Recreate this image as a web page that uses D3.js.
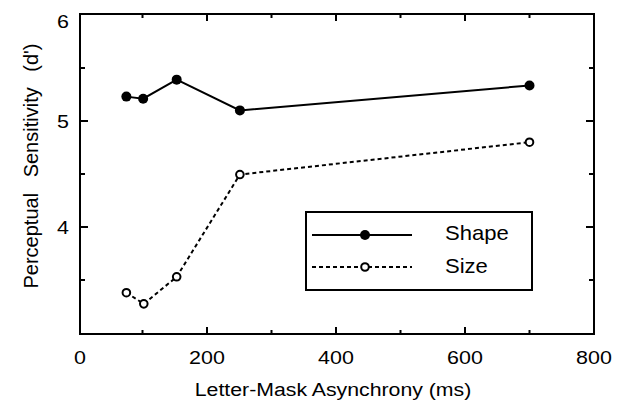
<!DOCTYPE html>
<html><head><meta charset="utf-8">
<script src="https://cdn.jsdelivr.net/npm/d3@7"></script>
<style>body{margin:0;background:#fff}svg{display:block}</style>
</head><body>
<script>
const shapeX = [75, 101, 153, 251, 700];
const shapeY = [5.23, 5.21, 5.39, 5.10, 5.335];
const sizeX = [75, 102, 153, 251, 700];
const sizeY = [3.38, 3.275, 3.53, 4.495, 4.80];
const xTicks = [0, 200, 400, 600, 800];
const xMinor = [100, 300, 500, 700];
const yTicks = [4, 5, 6];
const yMinor = [3.5, 4.5, 5.5];

const W = 624, H = 407;
const svg = d3.select("body").append("svg").attr("width", W).attr("height", H);
const font = "Liberation Sans, Arial, Helvetica, sans-serif";
const x = d3.scaleLinear().domain([0, 800]).range([78, 594]);
const y = d3.scaleLinear().domain([3, 6]).range([333, 15]);
const L = 80, R = 594, T = 14, B = 334;

const g = svg.append("g").attr("stroke", "#000").attr("stroke-width", 2);
g.append("rect").attr("x", L).attr("y", T).attr("width", R - L).attr("height", B - T).attr("fill", "none");

xTicks.concat(xMinor).forEach(v => {
  const major = xTicks.includes(v);
  const len = major ? 7 : 4;
  if (v === 0 || v === 800) return;
  g.append("line").attr("x1", x(v)).attr("x2", x(v)).attr("y1", B).attr("y2", B - len);
  g.append("line").attr("x1", x(v)).attr("x2", x(v)).attr("y1", T).attr("y2", T + len);
});
yTicks.concat(yMinor).forEach(v => {
  const major = yTicks.includes(v);
  const len = major ? 8 : 5;
  if (v === 6) return;
  g.append("line").attr("x1", L).attr("x2", L + len).attr("y1", y(v)).attr("y2", y(v));
  g.append("line").attr("x1", R).attr("x2", R - len).attr("y1", y(v)).attr("y2", y(v));
});

function label(px, py, str, size, anchor, sx) {
  svg.append("g").attr("transform", `translate(${px},${py}) scale(${sx},1)`)
    .append("text").attr("font-family", font).attr("font-size", size)
    .attr("text-anchor", anchor).attr("fill", "#000").text(str);
}
xTicks.forEach(v => label(x(v) + (v === 0 ? 2 : 0), 364, v, 19, "middle", 1.13));
yTicks.forEach(v => label(69, Math.max(y(v), 21) + 7, v, 19, "end", 1.13));
label(333, 396, "Letter-Mask Asynchrony (ms)", 19, "middle", 1.12);

svg.append("text").attr("transform", "translate(38,166) rotate(-90)").attr("text-anchor", "middle")
  .attr("font-family", font).attr("font-size", 20).attr("word-spacing", 10)
  .text("Perceptual Sensitivity (d')");

const line = d3.line().x(d => x(d[0])).y(d => y(d[1]));
const shapeData = shapeX.map((v, i) => [v, shapeY[i]]);
const sizeData = sizeX.map((v, i) => [v, sizeY[i]]);

svg.append("path").attr("d", line(shapeData)).attr("fill", "none").attr("stroke", "#000").attr("stroke-width", 2);
svg.append("path").attr("d", line(sizeData)).attr("fill", "none").attr("stroke", "#000").attr("stroke-width", 2)
  .attr("stroke-dasharray", "4,3");
svg.selectAll(".sh").data(shapeData).enter().append("circle")
  .attr("cx", d => x(d[0])).attr("cy", d => y(d[1])).attr("r", 5).attr("fill", "#000");
svg.selectAll(".sz").data(sizeData).enter().append("circle")
  .attr("cx", d => x(d[0])).attr("cy", d => y(d[1])).attr("r", 3.8).attr("fill", "#fff")
  .attr("stroke", "#000").attr("stroke-width", 2);

const lg = svg.append("g");
lg.append("rect").attr("x", 306).attr("y", 212).attr("width", 226).attr("height", 78)
  .attr("fill", "#fff").attr("stroke", "#000").attr("stroke-width", 2);
lg.append("line").attr("x1", 312).attr("x2", 412).attr("y1", 235).attr("y2", 235).attr("stroke", "#000").attr("stroke-width", 2);
lg.append("circle").attr("cx", 365).attr("cy", 235).attr("r", 5).attr("fill", "#000");
lg.append("line").attr("x1", 312).attr("x2", 412).attr("y1", 267).attr("y2", 267).attr("stroke", "#000").attr("stroke-width", 2).attr("stroke-dasharray", "4,3");
lg.append("circle").attr("cx", 365).attr("cy", 267).attr("r", 3.8).attr("fill", "#fff").attr("stroke", "#000").attr("stroke-width", 2);
label(445, 240, "Shape", 21, "start", 1.05);
label(445, 273, "Size", 21, "start", 1.05);
</script>
</body></html>
